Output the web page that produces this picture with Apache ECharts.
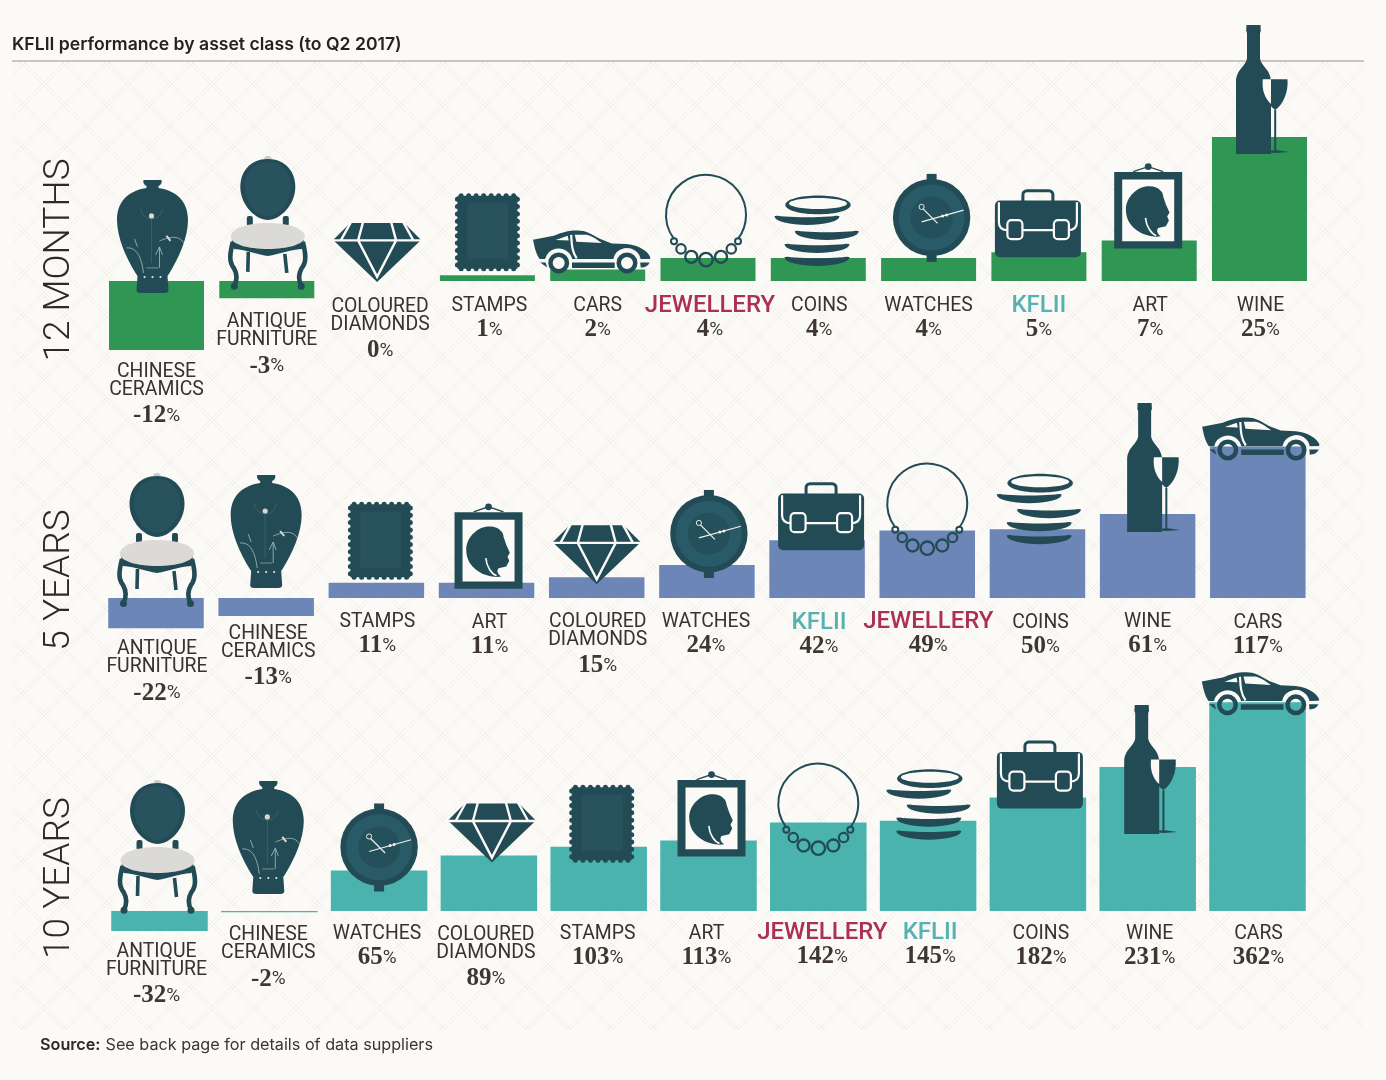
<!DOCTYPE html>
<html>
<head>
<meta charset="utf-8">
<title>KFLII performance by asset class</title>
<style>
html,body{margin:0;padding:0;background:#fbfaf7;}
#main{width:1386px;height:1080px;}
</style>
<script src="https://cdn.jsdelivr.net/npm/echarts@6/dist/echarts.min.js"></script>
</head>
<body>
<div id="main"></div>
<script>
// chart data, one block per row
var names12 = ['CHINESE\nCERAMICS','ANTIQUE\nFURNITURE','COLOURED\nDIAMONDS','STAMPS','CARS','JEWELLERY','COINS','WATCHES','KFLII','ART','WINE'];
var values12 = [-12,-3,0,1,2,4,4,4,5,7,25];
var icons12 = ['vase','chair','diamond','stamp','car','necklace','coins','watch','bag','art','wine'];

var names5 = ['ANTIQUE\nFURNITURE','CHINESE\nCERAMICS','STAMPS','ART','COLOURED\nDIAMONDS','WATCHES','KFLII','JEWELLERY','COINS','WINE','CARS'];
var values5 = [-22,-13,11,11,15,24,42,49,50,61,117];
var icons5 = ['chair','vase','stamp','art','diamond','watch','bag','necklace','coins','wine','car'];

var names10 = ['ANTIQUE\nFURNITURE','CHINESE\nCERAMICS','WATCHES','COLOURED\nDIAMONDS','STAMPS','ART','JEWELLERY','KFLII','COINS','WINE','CARS'];
var values10 = [-32,-2,65,89,103,113,142,145,182,231,362];
// the source really does swap the coins and briefcase pictures in this row
var icons10 = ['chair','vase','watch','diamond','stamp','art','necklace','coins','bag','wine','car'];

// where each picture sits against the top of its bar: [dx, dy]
var nudge12 = [[-4,12],[1,9],[0,1],[0,-4],[-6,4],[-2,9],[-2,8],[3,4],[-1,5],[-1,8],[-6,17]];
var nudge5 = [[1,9],[0,-10],[4,-3],[2,6],[0,7],[2,13],[4,10],[0,25],[1,15],[-3,18],[3,14]];
var nudge10 = [[-2,3],[-1,-17],[0,21],[3,7],[3,16],[3,16],[0,33],[0,19],[2,11],[-6,67],[3,13]];

// small label corrections, the labels in the source are hand placed: [dx, dy]
var shift12 = [[0,0],[0,2],[3,4],[2,3],[0,3],[2,3],[1,3],[0,3],[0,3],[1,3],[1,3]];
var shift5 = [[1,-1],[2,-4],[1,2],[3,3],[1,2],[-1,2],[2,3],[1,2],[3,3],[0,2],[0,3]];
var shift10 = [[-3,-1],[-1,1],[-2,1],[-3,2],[-1,1],[-2,1],[4,0],[2,0],[3,1],[2,1],[1,1]];

var dark = '#234b56', lighter = '#29525f', paper = '#fbfaf7', seat = '#dcdad6';
var sans = 'Roboto', serif = '"Liberation Serif"';

function path(d, fill, stroke, width) {
    return {type:'path', shape:{pathData:d}, style:{fill:fill||'none', stroke:stroke||'none', lineWidth:width||0}};
}
function dot(cx, cy, r, fill, stroke, width) {
    return {type:'circle', shape:{cx:cx,cy:cy,r:r}, style:{fill:fill||'none', stroke:stroke||'none', lineWidth:width||0}};
}
function box(x, y, w, h, fill, r, stroke, width) {
    return {type:'rect', shape:{x:x,y:y,width:w,height:h,r:r||0}, style:{fill:fill||'none', stroke:stroke||'none', lineWidth:width||0}};
}
// lower band of a coin seen from the side
function crescent(x, y, rx, ry) {
    return path('M'+(x-rx)+' '+y+' A'+rx+' '+ry+' 0 0 0 '+(x+rx)+' '+y+' A'+rx+' '+(ry*0.3)+' 0 0 1 '+(x-rx)+' '+y+' Z', dark, dark, 2);
}
// stamp outline with the perforated edge
function stampEdge() {
    var r = 2.5, w = 60, h = 73, x0 = -30, x1 = 30, y0 = -75.5, y1 = -2.5, nx = 8, ny = 10, i, d = 'M'+x0+' '+y0;
    for (i = 0; i < nx; i++) {
        d += ' L'+(x0+(i+0.5)*w/nx-r)+' '+y0+' A'+r+' '+r+' 0 0 1 '+(x0+(i+0.5)*w/nx+r)+' '+y0;
    }
    d += ' L'+x1+' '+y0;
    for (i = 0; i < ny; i++) {
        d += ' L'+x1+' '+(y0+(i+0.5)*h/ny-r)+' A'+r+' '+r+' 0 0 1 '+x1+' '+(y0+(i+0.5)*h/ny+r);
    }
    d += ' L'+x1+' '+y1;
    for (i = nx-1; i >= 0; i--) {
        d += ' L'+(x0+(i+0.5)*w/nx+r)+' '+y1+' A'+r+' '+r+' 0 0 1 '+(x0+(i+0.5)*w/nx-r)+' '+y1;
    }
    d += ' L'+x0+' '+y1;
    for (i = ny-1; i >= 0; i--) {
        d += ' L'+x0+' '+(y0+(i+0.5)*h/ny+r)+' A'+r+' '+r+' 0 0 1 '+x0+' '+(y0+(i+0.5)*h/ny-r);
    }
    return d + ' Z';
}

// pictures, drawn around (0,0) = bottom centre
var pictures = {
    vase: [
        path('M-9 -113 L9 -113 Q10 -109 6 -107 L6 -105 C20 -103 35.5 -95 35.5 -73 C35.5 -55 26 -35 17 -20 L15 -17 L16 -3 Q16 0 12 0 L-12 0 Q-16 0 -16 -3 L-15 -17 L-17 -20 C-26 -35 -35.5 -55 -35.5 -73 C-35.5 -95 -20 -103 -6 -105 L-6 -107 Q-10 -109 -9 -113 Z', dark),
        path('M-1 -74 L-1 -30 M-12 -84 C-10 -76 -5 -74 -1 -74 C4 -74 8 -76 10 -84', 'none', '#3c6b74', 0.7),
        dot(-1, -77, 2.6, '#d9d6ce'),
        path('M-26 -45 C-16 -46 -11 -36 -9 -20 M-15 -46 L-18 -54 M7 -52 C12 -54 26 -60 31 -50 M7 -46 L7 -25 M3 -38 L7 -46 L10 -38', 'none', '#a9bcbc', 0.8),
        path('M14 -57 L18 -52', 'none', '#dcdad6', 2),
        path('M-6 -25 L6 -25', 'none', '#8aa3a5', 0.8),
        dot(-17,-16,0.9,'#f3f1ec'), dot(-8,-16,1,'#f3f1ec'), dot(0,-16,1,'#f3f1ec'), dot(8,-16,1,'#f3f1ec'), dot(17,-16,0.9,'#f3f1ec')
    ],
    chair: [
        dot(0, -130, 4, '#c9ccc9'),
        path('M0 -131 C18 -131 27.5 -118 27.5 -103 C27.5 -85 12 -70 0 -70 C-12 -70 -27.5 -85 -27.5 -103 C-27.5 -118 -18 -131 0 -131 Z', dark),
        path('M0 -128 C15 -128 23 -116 23 -103 C23 -88 11 -74 0 -74 C-11 -74 -23 -88 -23 -103 C-23 -116 -15 -128 0 -128 Z', lighter),
        box(-21, -74, 6, 10, dark, 2), box(15, -74, 6, 10, dark, 2),
        path('M-19.5 -38 L-20 -18 M17 -36 L19 -17', 'none', dark, 3.6),
        path('M-35 -48 C-38 -36 -39 -28 -34 -22 C-30 -15 -31 -9 -33.5 -4 M35 -48 C38 -36 39 -28 34 -22 C30 -15 31 -9 33.5 -4', 'none', dark, 4.6),
        dot(-33.5, -3.6, 3.5, dark), dot(33.5, -3.6, 3.5, dark),
        path('M-36 -50 L36 -50 L34 -41 C20 -40 12 -36 0 -34 C-12 -36 -20 -40 -34 -41 Z', dark),
        path('M-37 -53 C-37 -62 -20 -67 0 -67 C20 -67 37 -62 37 -53 C37 -46 20 -41 0 -41 C-20 -41 -37 -46 -37 -53 Z', seat)
    ],
    diamond: [
        path('M-27 -59 L27 -59 L44 -42 L0 0 L-44 -42 Z', dark),
        path('M-47 -41.5 L47 -41.5 M-14 -60 L-19 -41.5 L0 -5 L19 -41.5 L14 -60 M-26 -60 L-36 -42 M26 -60 L36 -42', 'none', paper, 2.4)
    ],
    stamp: [
        path(stampEdge(), dark),
        box(-20, -68, 41, 56, lighter)
    ],
    car: [
        path('M-58.7 -33.7 L-38 -37.7 C-30 -41 -24 -43 -14 -43 C-6 -43 -1 -40 8.7 -34.3 L20 -30 L35 -29.3 C48 -28 56 -22 58.7 -16 L58 -14.5 L49 -14.3 A14 14 0 0 0 21.6 -14.3 L-19.4 -14.3 A14 14 0 0 0 -46.6 -14.3 L-52 -14.3 C-56 -20 -57 -26 -58.7 -33.7 Z', dark),
        path('M-36 -33.5 L-24 -37.7 L-23 -33 Z', paper),
        path('M-17 -38.7 L-5 -38.7 C2 -37 6 -33 10.3 -30.3 L-15.3 -31.7 Z', paper),
        path('M-20.5 -38.5 C-20 -30 -20 -22 -15 -15', 'none', paper, 2.2),
        {type:'ring', shape:{cx:-33,cy:-10.5,r:10.5,r0:6}, style:{fill:dark}},
        {type:'ring', shape:{cx:35.3,cy:-10.5,r:10.5,r0:6}, style:{fill:dark}},
        box(-19.7, -11, 42.7, 5.5, dark),
        path('M-51.5 -11 L-46 -11 L-44.5 -5.8 Z', dark),
        path('M48.5 -11 L58 -11 C56 -7 53 -6 49 -5.8 Z', dark)
    ],
    necklace: [
        path('M-32 -28 A40 40 0 1 1 32 -28', 'none', dark, 2),
        dot(-32,-25.7,3,'none',dark,2), dot(-25,-18,4.7,'none',dark,2.2), dot(-14.7,-10,6,'none',dark,2.4),
        dot(0,-7.3,6.7,'none',dark,2.4), dot(15,-10,6,'none',dark,2.4), dot(25.3,-18,4.7,'none',dark,2.2), dot(32,-25.7,3,'none',dark,2)
    ],
    coins: [
        crescent(0.7, -9, 31.5, 8),
        crescent(0.7, -22, 31.5, 8),
        crescent(10.5, -35, 31, 8),
        crescent(-9.3, -50, 31.5, 8),
        {type:'ellipse', shape:{cx:1.7,cy:-61,rx:32.7,ry:9.3}, style:{fill:dark}},
        {type:'ellipse', shape:{cx:1.7,cy:-62.5,rx:29,ry:5.5}, style:{fill:paper}}
    ],
    watch: [
        box(-5, -88, 10, 11, dark), box(-5, -11, 10, 11, dark),
        dot(0, -44.3, 38.7, dark),
        dot(0, -44.3, 33, '#295a67'),
        dot(0, -44.3, 21, '#24505c'),
        dot(-10, -55, 2.6, 'none', '#e9e8e3', 1),
        path('M-8.5 -53 L6 -38.5 M-10 -40 L32 -51.7', 'none', '#f1efe9', 1.2),
        dot(11,-46,1.5,'#f1efe9'), dot(15,-47,1.5,'#f1efe9')
    ],
    bag: [
        box(-15, -66.5, 30, 14, 'none', 4, dark, 3),
        box(-43, -56.7, 86, 56.7, dark, 5),
        path('M-39 -55 L-39 -35 Q-39 -27 -30 -27 L30 -27 Q39 -27 39 -35 L39 -55', 'none', paper, 2.2),
        box(-30.5, -37, 15, 19, dark, 4, paper, 2.2),
        box(16, -37, 15, 19, dark, 4, paper, 2.2)
    ],
    art: [
        path('M-15 -77 L0 -82 L15 -77', 'none', dark, 1.4),
        dot(0, -82, 3.4, dark),
        box(-34, -76.7, 68, 76.7, dark),
        box(-26, -69, 52, 61.7, paper),
        path('M1.7 -62.3 C10 -62 15 -57 15 -52 L17.7 -44 L21.3 -36 L19 -32 L20.7 -28 L17.7 -22.3 L10 -20.7 C8 -18 9 -15 12.7 -12.3 C2 -10 -22.3 -17 -22.3 -39 C-22.3 -52 -10 -63 1.7 -62.3 Z', dark),
        path('M-2.7 -30.7 C-2 -22 3 -15 8 -13', 'none', paper, 1.6)
    ],
    wine: [
        path('M-7 -129 L7 -129 L7.3 -123 L6.5 -121 L6.5 -96 C7 -88 17.5 -85 17.5 -72 L17.5 0 L-17.5 0 L-17.5 -72 C-17.5 -85 -7 -88 -6.5 -96 L-6.5 -121 L-7.3 -123 Z', dark),
        path('M9.3 -74.7 L34 -74.7 C35 -62 30 -50 21.7 -44 C13 -50 8 -62 9.3 -74.7 Z', dark),
        path('M9.3 -74.7 L17.5 -74.7 L17.5 -50 C12 -55 8 -63 9.3 -74.7 Z', paper),
        box(20.7, -44, 2, 41, dark),
        path('M7.6 -2 L21.7 -4 L36 -2 L21.7 -1 Z', dark)
    ]
};

// value label under each bar
function barLabel(params) {
    var lines = params.name.split('\n');
    var style = params.name == 'JEWELLERY' ? 'jewel' : params.name == 'KFLII' ? 'kflii' : 'name';
    var text = lines.map(function (s) { return '{' + style + '|' + s + '}'; }).join('\n');
    return text + '\n{' + (lines.length > 1 ? 'num2' : 'num') + '|' + params.value + '}{pct|%}';
}

var labelRich = {
    name: {fontFamily:sans, fontWeight:400, fontSize:19.4, lineHeight:18, color:'#3a322e'},
    jewel: {fontFamily:sans, fontWeight:500, fontSize:24, lineHeight:18, color:'#ab2f5a'},
    kflii: {fontFamily:sans, fontWeight:500, fontSize:24, lineHeight:18, color:'#55b2b0'},
    num: {fontFamily:serif, fontWeight:'bold', fontSize:25, lineHeight:30, color:'#3f3631'},
    num2: {fontFamily:serif, fontWeight:'bold', fontSize:25, lineHeight:34, color:'#3f3631'},
    pct: {fontFamily:sans, fontWeight:400, fontSize:19, lineHeight:30, color:'#3f3631'}
};

function iconSeries(index, values, icons, nudge, axisMax) {
    return {
        type:'custom', xAxisIndex:index, yAxisIndex:index, z:3, silent:true,
        data: values.map(function (v, i) { return [i, v]; }),
        renderItem: function (params, api) {
            var i = api.value(0);
            var top = api.coord([i, Math.max(0, Math.min(api.value(1), axisMax))]);
            return {type:'group', x:top[0]+nudge[i][0], y:top[1]+nudge[i][1], children:JSON.parse(JSON.stringify(pictures[icons[i]]))};
        }
    };
}
function barSeries(index, values, shift, color, width) {
    return {
        type:'bar', xAxisIndex:index, yAxisIndex:index, barWidth:width, clip:true, silent:true,
        data: values.map(function (v, i) { return {value:v, label:{offset:shift[i]}}; }),
        itemStyle:{color:color},
        label:{show:true, position:'bottom', distance:13, formatter:barLabel, rich:labelRich}
    };
}

// faint lattice behind the chart
function lattice() {
    var c = document.createElement('canvas'), size = 42;
    c.width = size; c.height = size;
    var g = c.getContext('2d');
    g.strokeStyle = 'rgba(222,219,210,0.3)';
    g.lineWidth = 1;
    [-1,0,1].forEach(function (k) {
        [0,4].forEach(function (o) {
            g.beginPath(); g.moveTo(k*size+o,0); g.lineTo(k*size+size+o,size); g.stroke();
            g.beginPath(); g.moveTo(k*size+size+o,0); g.lineTo(k*size+o,size); g.stroke();
        });
    });
    return c;
}

function sideLabel(text, y) {
    return {type:'text', x:60, y:y, rotation:Math.PI/2, z:1,
        style:{text:text, fontFamily:sans, fontWeight:300, fontSize:37, fill:'#2f2a27', textAlign:'center', textVerticalAlign:'middle'}};
}

var myChart = echarts.init(document.getElementById('main'));
var option = {
    backgroundColor:paper,
    animation:false,
    title:[
        {text:'KFLII performance by asset class (to Q2 2017)', left:7, top:31, textStyle:{fontFamily:'Inter', fontWeight:600, fontSize:17.6, color:'#26221f'}},
        {text:'{b|Source:} {t|See back page for details of data suppliers}', left:35, top:1031, textStyle:{rich:{
            b:{fontFamily:'Inter', fontWeight:600, fontSize:16.2, color:'#2c2826'},
            t:{fontFamily:'Inter', fontWeight:400, fontSize:16.2, color:'#3a3532'}
        }}}
    ],
    grid:[
        {left:101.35, width:1213.3, top:137, height:213},
        {left:100.9, width:1212, top:446.5, height:181.8},
        {left:104.6, width:1207.8, top:702.3, height:228.6}
    ],
    xAxis:[
        {type:'category', gridIndex:0, show:false, data:names12},
        {type:'category', gridIndex:1, show:false, data:names5},
        {type:'category', gridIndex:2, show:false, data:names10}
    ],
    yAxis:[
        {type:'value', gridIndex:0, show:false, min:-12, max:25},
        {type:'value', gridIndex:1, show:false, min:-22, max:110},
        {type:'value', gridIndex:2, show:false, min:-32, max:335}
    ],
    series:[
        barSeries(0, values12, shift12, '#2f9654', 95),
        barSeries(1, values5, shift5, '#6c86b8', 95.5),
        barSeries(2, values10, shift10, '#4ab3ad', 96.5),
        iconSeries(0, values12, icons12, nudge12, 25),
        iconSeries(1, values5, icons5, nudge5, 110),
        iconSeries(2, values10, icons10, nudge10, 335)
    ],
    graphic:[
        {type:'rect', z:-1, shape:{x:12,y:62,width:1352,height:968}, style:{fill:{image:lattice(), repeat:'repeat'}}},
        {type:'line', z:0, shape:{x1:12,y1:61,x2:1364,y2:61}, style:{stroke:'#b9b3ab', lineWidth:1.4}},
        sideLabel('12 MONTHS', 260),
        sideLabel('5 YEARS', 580),
        sideLabel('10 YEARS', 878)
    ]
};
myChart.setOption(option);
</script>
</body>
</html>
